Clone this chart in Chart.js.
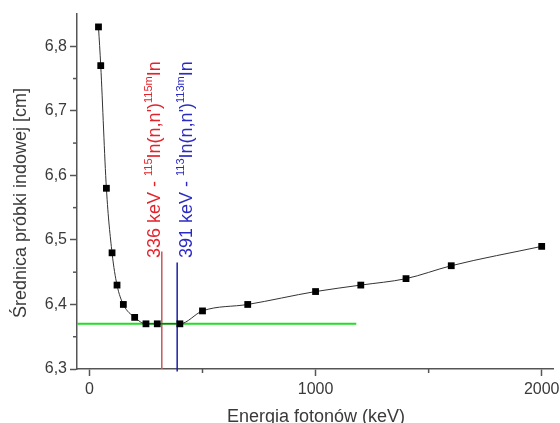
<!DOCTYPE html>
<html>
<head>
<meta charset="utf-8">
<script src="https://cdn.jsdelivr.net/npm/chart.js@4"></script>
<style>
  html, body { margin: 0; padding: 0; background: #fff; }
</style>
</head>
<body>
<canvas id="chart" width="560" height="423"></canvas>
<script>
// Data
const energy = [40, 50, 75, 100, 122, 150, 200, 250, 300, 400, 500, 700, 1000, 1200, 1400, 1600, 2000];
const diameter = [6.83, 6.77, 6.58, 6.48, 6.43, 6.40, 6.38, 6.37, 6.37, 6.37, 6.39, 6.40, 6.42, 6.43, 6.44, 6.46, 6.49];

// Reference lines
const greenX = [-55, 1180];
const greenY = 6.37;
const redX = 320;
const redY = [6.3, 6.482];
const blueX = 388;
const blueY = [6.296, 6.465];
const labelStartY = 6.472;

// Axis ticks
const xTicks = [0, 1000, 2000];
const xMinor = [500, 1500];
const yTicks = [6.3, 6.4, 6.5, 6.6, 6.7, 6.8];
const yMinor = [6.35, 6.45, 6.55, 6.65, 6.75];

const FONT = '"Liberation Sans", Arial, sans-serif';
const AXIS_COLOR = '#555';
const TEXT_COLOR = '#3a3a3a';

function drawRich(ctx, parts, x, y, color) {
  ctx.save();
  ctx.translate(x, y);
  ctx.rotate(-Math.PI / 2);
  ctx.fillStyle = color;
  ctx.textBaseline = 'alphabetic';
  ctx.textAlign = 'left';
  let pos = 0;
  parts.forEach((p) => {
    ctx.font = (p.sup ? '11px ' : '18px ') + FONT;
    ctx.fillText(p.t, pos, p.sup ? -8 : 0);
    pos += ctx.measureText(p.t).width;
  });
  ctx.restore();
}

// Minor ticks, axis titles and the rotated labels
const extrasPlugin = {
  id: 'extras',
  afterDraw(chart) {
    const ctx = chart.ctx;
    const xs = chart.scales.x;
    const ys = chart.scales.y;
    const area = chart.chartArea;

    ctx.save();
    ctx.strokeStyle = AXIS_COLOR;
    ctx.lineWidth = 1.5;
    xMinor.forEach((v) => {
      const px = xs.getPixelForValue(v);
      ctx.beginPath();
      ctx.moveTo(px, area.bottom);
      ctx.lineTo(px, area.bottom + 4);
      ctx.stroke();
    });
    yMinor.forEach((v) => {
      const py = ys.getPixelForValue(v);
      ctx.beginPath();
      ctx.moveTo(area.left, py);
      ctx.lineTo(area.left - 4, py);
      ctx.stroke();
    });

    // axis titles
    ctx.fillStyle = TEXT_COLOR;
    ctx.font = '18px ' + FONT;
    ctx.textAlign = 'center';
    ctx.textBaseline = 'alphabetic';
    ctx.fillText('Energia fotonów (keV)', 316, 422);

    ctx.translate(26, 203);
    ctx.rotate(-Math.PI / 2);
    ctx.fillText('Średnica próbki indowej [cm]', 0, 0);
    ctx.restore();

    const startPx = ys.getPixelForValue(labelStartY);
    drawRich(ctx, [
      { t: '336 keV - ' }, { t: '115', sup: true }, { t: "In(n,n')" }, { t: '115m', sup: true }, { t: 'In' }
    ], xs.getPixelForValue(redX) - 2, startPx, '#e3232b');
    drawRich(ctx, [
      { t: '391 keV - ' }, { t: '113', sup: true }, { t: "In(n,n')" }, { t: '113m', sup: true }, { t: 'In' }
    ], xs.getPixelForValue(blueX) + 15, startPx, '#2b2bc4');
  }
};

const ctx = document.getElementById('chart').getContext('2d');
const chart = new Chart(ctx, {
  type: 'line',
  data: {
    datasets: [
      {
        data: energy.map((e, i) => ({ x: e, y: diameter[i] })),
        borderColor: '#333',
        borderWidth: 1,
        cubicInterpolationMode: 'monotone',
        pointStyle: 'rect',
        pointRadius: 4.8,
        pointBackgroundColor: '#000',
        pointBorderWidth: 0
      },
      {
        data: greenX.map((x) => ({ x: x, y: greenY })),
        borderColor: '#22dd22',
        borderWidth: 2,
        pointRadius: 0
      },
      {
        data: redY.map((y) => ({ x: redX, y: y })),
        borderColor: '#c8585a',
        borderWidth: 1.5,
        pointRadius: 0
      },
      {
        data: blueY.map((y) => ({ x: blueX, y: y })),
        borderColor: '#1c1ca8',
        borderWidth: 1.5,
        pointRadius: 0,
        clip: false
      }
    ]
  },
  options: {
    responsive: false,
    animation: false,
    layout: { padding: { top: 14, right: 7, left: 0, bottom: 0 } },
    plugins: { legend: { display: false }, tooltip: { enabled: false } },
    scales: {
      x: {
        type: 'linear',
        min: -55,
        max: 2050,
        afterBuildTicks: (s) => { s.ticks = xTicks.map((v) => ({ value: v })); },
        afterFit: (s) => { s.height = 54; s.paddingLeft = 0; s.paddingRight = 0; },
        grid: { drawOnChartArea: false, tickLength: 7, tickColor: AXIS_COLOR, tickWidth: 1.5 },
        border: { color: AXIS_COLOR, width: 1.5 },
        ticks: {
          callback: (v) => String(v),
          font: { size: 16, family: FONT },
          color: TEXT_COLOR,
          padding: 4,
          maxRotation: 0
        }
      },
      y: {
        min: 6.3,
        max: 6.85,
        afterBuildTicks: (s) => { s.ticks = yTicks.map((v) => ({ value: v })); },
        afterFit: (s) => { s.width = 77; s.paddingTop = 0; s.paddingBottom = 0; },
        grid: { drawOnChartArea: false, tickLength: 7, tickColor: AXIS_COLOR, tickWidth: 1.5 },
        border: { color: AXIS_COLOR, width: 1.5 },
        ticks: {
          callback: (v) => v.toFixed(1).replace('.', ','),
          font: { size: 16, family: FONT },
          color: TEXT_COLOR,
          padding: 3
        }
      }
    }
  },
  plugins: [extrasPlugin]
});
</script>
</body>
</html>
